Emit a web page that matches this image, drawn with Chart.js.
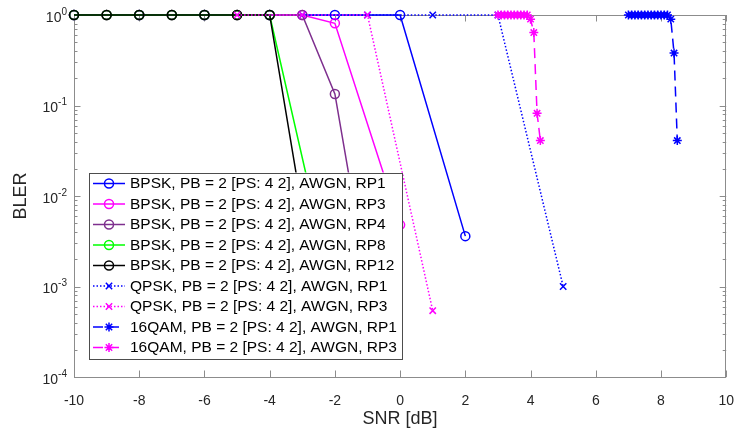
<!DOCTYPE html>
<html>
<head>
<meta charset="utf-8">
<script src="https://cdn.jsdelivr.net/npm/chart.js@4.4.1/dist/chart.umd.min.js"></script>
<style>
    html, body { margin: 0; padding: 0; background: #fff; }
    #grafica-bler { display: block; }
</style>
</head>
<body>
<canvas id="grafica-bler" width="742" height="428"></canvas>
<script>
    // Datos
    const etiquetas = [
        'BPSK, PB = 2 [PS: 4 2], AWGN, RP1',
        'BPSK, PB = 2 [PS: 4 2], AWGN, RP3',
        'BPSK, PB = 2 [PS: 4 2], AWGN, RP4',
        'BPSK, PB = 2 [PS: 4 2], AWGN, RP8',
        'BPSK, PB = 2 [PS: 4 2], AWGN, RP12',
        'QPSK, PB = 2 [PS: 4 2], AWGN, RP1',
        'QPSK, PB = 2 [PS: 4 2], AWGN, RP3',
        '16QAM, PB = 2 [PS: 4 2], AWGN, RP1',
        '16QAM, PB = 2 [PS: 4 2], AWGN, RP3'
    ];

    const snrBpskRp1 = [-10, -8, -6, -4, -2, 0, 2];
    const blerBpskRp1 = [1, 1, 1, 1, 1, 1, 0.0036];

    const snrBpskRp3 = [-10, -9, -8, -7, -6, -5, -4, -3, -2, 0];
    const blerBpskRp3 = [1, 1, 1, 1, 1, 1, 1, 1, 0.81, 0.0048];

    const snrBpskRp4 = [-10, -9, -8, -7, -6, -5, -4, -3, -2, -1];
    const blerBpskRp4 = [1, 1, 1, 1, 1, 1, 1, 1, 0.134, 0.0011];

    const snrBpskRp8 = [-10, -9, -8, -7, -6, -5, -4, -2];
    const blerBpskRp8 = [1, 1, 1, 1, 1, 1, 1, 0.0007];

    const snrBpskRp12 = [-10, -9, -8, -7, -6, -5, -4, -3];
    const blerBpskRp12 = [1, 1, 1, 1, 1, 1, 1, 0.007];

    const snrQpskRp1 = [-3, -1, 1, 3, 5];
    const blerQpskRp1 = [1, 1, 1, 1, 0.001];

    const snrQpskRp3 = [-5, -3, -1, 1];
    const blerQpskRp3 = [1, 1, 1, 0.00054];

    const snrQamRp1 = [7.0, 7.1, 7.2, 7.3, 7.4, 7.5, 7.6, 7.7, 7.8, 7.9, 8.0, 8.1, 8.2, 8.3, 8.4, 8.5];
    const blerQamRp1 = [1, 1, 1, 1, 1, 1, 1, 1, 1, 1, 1, 1, 1, 0.9, 0.38, 0.041];

    const snrQamRp3 = [3.0, 3.1, 3.2, 3.3, 3.4, 3.5, 3.6, 3.7, 3.8, 3.9, 4.0, 4.1, 4.2, 4.3];
    const blerQamRp3 = [1, 1, 1, 1, 1, 1, 1, 1, 1, 1, 0.9, 0.64, 0.082, 0.041];

    const xTicks = [-10, -8, -6, -4, -2, 0, 2, 4, 6, 8, 10];
    const yExponentes = [-4, -3, -2, -1, 0];

    const fuente = '"Liberation Sans", Arial, Helvetica, sans-serif';
    const azul = '#0000ff';
    const magenta = '#ff00ff';
    const morado = '#7e2f8e';
    const verde = '#00ff00';
    const negro = '#000000';
    const colorEje = '#8c8c8c';
    const colorTexto = '#262626';

    const puntos = (xs, ys) => xs.map((v, i) => ({ x: v, y: ys[i] }));

    const series = [
        { x: snrBpskRp1, y: blerBpskRp1, color: azul, dash: [], marca: 'circle', r: 4.5 },
        { x: snrBpskRp3, y: blerBpskRp3, color: magenta, dash: [], marca: 'circle', r: 4.5 },
        { x: snrBpskRp4, y: blerBpskRp4, color: morado, dash: [], marca: 'circle', r: 4.5 },
        { x: snrBpskRp8, y: blerBpskRp8, color: verde, dash: [], marca: 'circle', r: 4.5 },
        { x: snrBpskRp12, y: blerBpskRp12, color: negro, dash: [], marca: 'circle', r: 4.5 },
        { x: snrQpskRp1, y: blerQpskRp1, color: azul, dash: [1.5, 2], marca: 'crossRot', r: 4.5 },
        { x: snrQpskRp3, y: blerQpskRp3, color: magenta, dash: [1.5, 2], marca: 'crossRot', r: 4.5 },
        { x: snrQamRp1, y: blerQamRp1, color: azul, dash: [10, 6], marca: 'star', r: 4.5 },
        { x: snrQamRp3, y: blerQamRp3, color: magenta, dash: [10, 6], marca: 'star', r: 4.5 }
    ];

    const datasets = series.map((s, i) => ({
        label: etiquetas[i],
        data: puntos(s.x, s.y),
        borderColor: s.color,
        borderWidth: 1.5,
        borderDash: s.dash,
        pointStyle: s.marca,
        pointRadius: s.r,
        pointBorderColor: s.color,
        pointBackgroundColor: 'rgba(0,0,0,0)',
        pointBorderWidth: 1.5,
        fill: false,
        tension: 0,
        clip: false,
        order: series.length - i
    }));

    // Caja, marcas de ejes y etiquetas 10^n
    const ejes = {
        id: 'ejes',
        beforeDatasetsDraw(chart) {
            const { ctx, chartArea: a, scales: { x, y } } = chart;
            ctx.save();
            ctx.strokeStyle = colorEje;
            ctx.lineWidth = 1;
            ctx.beginPath();
            x.ticks.forEach(t => {
                const px = Math.round(x.getPixelForValue(t.value)) + 0.5;
                ctx.moveTo(px, a.bottom); ctx.lineTo(px, a.bottom - 6.5);
                ctx.moveTo(px, a.top); ctx.lineTo(px, a.top + 6.5);
            });
            y.ticks.forEach(t => {
                const py = Math.round(y.getPixelForValue(t.value)) + 0.5;
                ctx.moveTo(a.left, py); ctx.lineTo(a.left + 6.5, py);
                ctx.moveTo(a.right, py); ctx.lineTo(a.right - 6.5, py);
                if (t.value < 1) {
                    for (let m = 2; m <= 9; m++) {
                        const pm = Math.round(y.getPixelForValue(t.value * m)) + 0.5;
                        ctx.moveTo(a.left, pm); ctx.lineTo(a.left + 3.5, pm);
                        ctx.moveTo(a.right, pm); ctx.lineTo(a.right - 3.5, pm);
                    }
                }
            });
            ctx.stroke();
            ctx.strokeRect(Math.round(a.left) + 0.5, Math.round(a.top) + 0.5,
                Math.round(a.width) - 1, Math.round(a.height));
            ctx.restore();
        },
        afterDraw(chart) {
            const { ctx, chartArea: a, scales: { y } } = chart;
            ctx.save();
            ctx.fillStyle = colorTexto;
            ctx.textBaseline = 'middle';
            ctx.textAlign = 'left';
            y.ticks.forEach(t => {
                const py = y.getPixelForValue(t.value);
                const exp = String(Math.round(Math.log10(t.value)));
                ctx.font = '10px ' + fuente;
                const wSup = ctx.measureText(exp).width;
                ctx.font = '14px ' + fuente;
                const wBase = ctx.measureText('10').width;
                const xr = a.left - 7;
                ctx.fillText('10', xr - wSup - wBase, py + 3);
                ctx.font = '10px ' + fuente;
                ctx.fillText(exp, xr - wSup, py - 3);
            });
            ctx.restore();
        }
    };

    // Leyenda dentro del área de la gráfica (abajo a la izquierda)
    const leyenda = {
        id: 'leyenda',
        afterDatasetsDraw(chart) {
            const { ctx, chartArea: a } = chart;
            const izq = a.left + 15;
            const abajo = a.bottom - 19;
            const fila = 20.5;
            const alto = fila * datasets.length + 1;
            const ancho = 313;
            const arriba = abajo - alto;
            ctx.save();
            ctx.fillStyle = '#ffffff';
            ctx.fillRect(izq, arriba, ancho, alto);
            ctx.strokeStyle = '#4d4d4d';
            ctx.lineWidth = 1;
            ctx.strokeRect(Math.round(izq) + 0.5, Math.round(arriba) + 0.5, ancho, Math.round(alto));
            chart.data.datasets.forEach((ds, i) => {
                const cy = arriba + 11 + i * fila;
                const x0 = izq + 4;
                const x1 = izq + 36;
                ctx.save();
                ctx.strokeStyle = ds.borderColor;
                ctx.lineWidth = ds.borderWidth;
                ctx.setLineDash(ds.borderDash);
                ctx.beginPath();
                ctx.moveTo(x0, cy);
                ctx.lineTo(x1, cy);
                ctx.stroke();
                ctx.setLineDash([]);
                ctx.fillStyle = 'rgba(0,0,0,0)';
                Chart.helpers.drawPoint(ctx, {
                    pointStyle: ds.pointStyle,
                    radius: ds.pointRadius,
                    borderWidth: ds.pointBorderWidth,
                    rotation: 0
                }, (x0 + x1) / 2, cy);
                ctx.restore();
                ctx.fillStyle = '#000000';
                ctx.font = '15.5px ' + fuente;
                ctx.textBaseline = 'middle';
                ctx.textAlign = 'left';
                ctx.fillText(ds.label, izq + 41, cy + 0.5);
            });
            ctx.restore();
        }
    };

    const ctx = document.getElementById('grafica-bler');

    new Chart(ctx, {
        type: 'line',
        data: { datasets: datasets },
        options: {
            responsive: false,
            animation: false,
            devicePixelRatio: 1,
            layout: {
                padding: { left: 0, right: 11, top: 15, bottom: 0 }
            },
            plugins: {
                legend: { display: false },
                tooltip: { enabled: false }
            },
            scales: {
                x: {
                    type: 'linear',
                    min: -10,
                    max: 10,
                    afterBuildTicks: scale => {
                        scale.ticks = xTicks.map(v => ({ value: v }));
                    },
                    afterFit: scale => { scale.height = 51; },
                    grid: { display: false },
                    border: { display: false },
                    ticks: {
                        color: colorTexto,
                        padding: 8,
                        maxRotation: 0,
                        font: { family: fuente, size: 14 }
                    },
                    title: {
                        display: true,
                        text: 'SNR [dB]',
                        color: colorTexto,
                        font: { family: fuente, size: 18 },
                        padding: { top: 0, bottom: -2 }
                    }
                },
                y: {
                    type: 'logarithmic',
                    min: 1e-4,
                    max: 1,
                    afterBuildTicks: scale => {
                        scale.ticks = yExponentes.map(e => ({ value: Math.pow(10, e) }));
                    },
                    afterFit: scale => { scale.width = 74; },
                    grid: { display: false },
                    border: { display: false },
                    ticks: { display: false },
                    title: {
                        display: true,
                        text: 'BLER',
                        color: colorTexto,
                        font: { family: fuente, size: 18 },
                        padding: { top: 10, bottom: 0 }
                    }
                }
            }
        },
        plugins: [ejes, leyenda]
    });
</script>
</body>
</html>
